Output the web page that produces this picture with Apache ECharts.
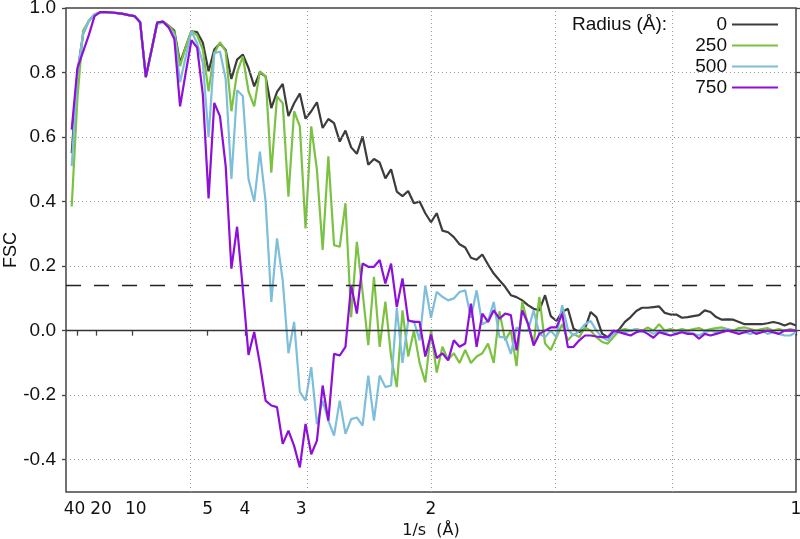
<!DOCTYPE html>
<html>
<head>
<meta charset="utf-8">
<title>FSC vs radius</title>
<script src="https://cdn.jsdelivr.net/npm/echarts@6/dist/echarts.min.js"></script>
<style>
  html, body { margin: 0; padding: 0; background: #fff; }
  #chart { width: 800px; height: 539px; }
</style>
</head>
<body>
<div id="chart"></div>
<script>
// FSC per Fourier shell, shells 1..128 (128 = Nyquist, 1 Å)
var shellCount = 128;

var radiusNames = ['0', '250', '500', '750'];

var fsc0 = [0.55, 0.80, 0.92, 0.96, 0.98, 0.987, 0.987, 0.986, 0.984, 0.982,
  0.978, 0.975, 0.956, 0.786, 0.87, 0.955, 0.958, 0.945, 0.93, 0.83,
  0.88, 0.928, 0.925, 0.892, 0.804, 0.871, 0.89, 0.87, 0.78, 0.84,
  0.856, 0.814, 0.757, 0.80, 0.788, 0.69, 0.74, 0.765, 0.665, 0.705,
  0.735, 0.657, 0.68, 0.708, 0.628, 0.656, 0.643, 0.586, 0.62, 0.568,
  0.548, 0.602, 0.514, 0.532, 0.521, 0.472, 0.50, 0.431, 0.417, 0.433,
  0.395, 0.40, 0.364, 0.336, 0.364, 0.31, 0.305, 0.29, 0.268, 0.258,
  0.226, 0.22, 0.236, 0.205, 0.177, 0.156, 0.136, 0.11, 0.104, 0.094,
  0.079, 0.068, 0.063, 0.11, 0.045, 0.03, 0.058, 0.068, 0.006, -0.004,
  0.006, 0.058, 0.042, -0.009, -0.02, -0.009, 0.004, 0.027, 0.042, 0.061,
  0.071, 0.071, 0.073, 0.075, 0.055, 0.05, 0.05, 0.04, 0.042, 0.045,
  0.048, 0.063, 0.058, 0.042, 0.034, 0.035, 0.034, 0.027, 0.02, 0.02,
  0.02, 0.02, 0.023, 0.027, 0.023, 0.016, 0.023, 0.016];

var fsc250 = [0.385, 0.72, 0.93, 0.96, 0.98, 0.987, 0.987, 0.986, 0.984, 0.982,
  0.978, 0.975, 0.956, 0.786, 0.87, 0.955, 0.958, 0.945, 0.925, 0.82,
  0.88, 0.93, 0.915, 0.87, 0.742, 0.86, 0.894, 0.866, 0.68, 0.80,
  0.85, 0.742, 0.695, 0.804, 0.788, 0.49, 0.726, 0.705, 0.415, 0.68,
  0.633, 0.317, 0.633, 0.498, 0.25, 0.54, 0.265, 0.26, 0.395, 0.042,
  0.275, 0.12, -0.045, 0.167, -0.05, 0.09, -0.08, -0.175, 0.063, -0.08,
  0.0, -0.1, -0.16, 0.0, -0.13, -0.05, -0.09, -0.07, -0.10, -0.06,
  -0.10, -0.08, -0.07, -0.04, -0.10, 0.06, -0.03, 0.0, -0.11, 0.09,
  0.02, -0.04, 0.105, -0.04, -0.06, -0.02, 0.02, -0.03, -0.01, -0.02,
  0.01, 0.0, -0.02, -0.035, -0.04, -0.02, 0.0, 0.005, 0.0, 0.005,
  0.0, 0.01, 0.0, 0.02, 0.0, 0.005, 0.0, 0.005, 0.0, 0.005,
  0.008, 0.0, 0.005, 0.008, 0.01, 0.005, 0.0, 0.008, 0.01, 0.005,
  0.0, 0.005, 0.008, 0.0, 0.005, 0.0, 0.005, 0.0];

var fsc500 = [0.51, 0.80, 0.92, 0.96, 0.98, 0.987, 0.987, 0.986, 0.984, 0.982,
  0.978, 0.975, 0.956, 0.786, 0.87, 0.95, 0.955, 0.94, 0.915, 0.77,
  0.85, 0.928, 0.89, 0.83, 0.60, 0.86, 0.865, 0.78, 0.47, 0.745,
  0.727, 0.47, 0.40, 0.555, 0.40, 0.089, 0.286, 0.155, -0.07, 0.027,
  -0.19, -0.217, -0.113, -0.29, -0.217, -0.279, -0.325, -0.217, -0.32, -0.274,
  -0.269, -0.294, -0.139, -0.279, -0.139, -0.175, -0.17, 0.07, -0.10, 0.03,
  0.03, -0.03, 0.14, 0.04, 0.12, 0.105, 0.094, 0.10, 0.12, 0.125,
  0.04, 0.125, 0.02, 0.03, 0.089, -0.02, -0.02, -0.072, 0.01, 0.0,
  0.0, 0.063, -0.01, -0.02, 0.0, -0.02, 0.079, 0.004, -0.015, 0.0,
  0.02, 0.03, 0.0, -0.02, -0.03, -0.01, 0.0, -0.005, 0.0, 0.005,
  -0.005, 0.0, -0.01, 0.0, -0.005, 0.0, -0.01, 0.0, -0.005, -0.01,
  -0.015, -0.005, 0.0, -0.005, 0.0, 0.005, -0.005, 0.0, -0.005, -0.01,
  -0.005, 0.0, -0.01, -0.005, -0.01, -0.015, -0.015, -0.005];

var fsc750 = [0.623, 0.814, 0.865, 0.916, 0.975, 0.987, 0.987, 0.986, 0.984, 0.982,
  0.978, 0.975, 0.956, 0.786, 0.87, 0.955, 0.958, 0.94, 0.904, 0.695,
  0.80, 0.90, 0.877, 0.73, 0.41, 0.706, 0.664, 0.51, 0.192, 0.322,
  0.13, -0.075, -0.004, -0.103, -0.217, -0.232, -0.237, -0.351, -0.31, -0.357,
  -0.424, -0.289, -0.383, -0.341, -0.17, -0.279, -0.072, -0.077, -0.05, 0.141,
  0.053, 0.208, 0.198, 0.198, 0.219, 0.146, 0.208, 0.073, 0.162, 0.032,
  0.027, 0.027, -0.08, -0.012, -0.085, -0.07, -0.092, -0.03, -0.05, -0.04,
  0.084, -0.05, 0.053, 0.027, 0.063, 0.037, 0.053, 0.048, -0.061, 0.063,
  0.022, -0.046, -0.01, 0.0, 0.01, 0.01, 0.053, -0.051, -0.05, -0.03,
  -0.015, -0.015, -0.018, -0.02, -0.02, 0.0, -0.005, -0.01, -0.015, -0.005,
  0.0, -0.01, -0.022, -0.005, -0.01, -0.015, -0.01, -0.005, -0.01, -0.01,
  -0.025, -0.01, -0.015, -0.01, -0.005, 0.0, -0.005, -0.01, -0.005, 0.0,
  -0.01, -0.005, 0.0, -0.005, -0.01, 0.0, 0.0, 0.0];

// resolution labels (Å); the low-res labels are spread a little apart from their ticks
var xTickLabels = ['40', '20', '10', '5', '4', '3', '2', '1'];
var xTickPos = [0.016, 0.041, 0.0914, 0.194, 0.245, 0.322, 0.5, 1.0];
var xLabelPos = [0.0116, 0.048, 0.0956, 0.194, 0.245, 0.322, 0.5, 1.0];
var yTicks = [-0.4, -0.2, 0.0, 0.2, 0.4, 0.6, 0.8, 1.0];
var xGrid = [1 / 6, 2 / 6, 3 / 6, 4 / 6, 5 / 6];
var threshold = 0.143;

var colors = ['#3c3c3c', '#7cc242', '#7dbedb', '#8e0fd8'];
var allFsc = [fsc0, fsc250, fsc500, fsc750];

function toPairs(vals) {
  return vals.map(function (v, i) { return [(i + 1) / shellCount, v]; });
}

var dotted = { color: '#9a9a9a', width: 1, type: [1, 3] };

var gridLines = [];
yTicks.forEach(function (v) {
  if (v !== 0 && v !== 1) gridLines.push({ yAxis: v, lineStyle: dotted });
});
xGrid.forEach(function (v) { gridLines.push({ xAxis: v, lineStyle: dotted }); });
gridLines.push({ yAxis: 0, lineStyle: { color: '#333', width: 1.3, type: 'solid' } });
gridLines.push({ yAxis: threshold, lineStyle: { color: '#222', width: 1.3, type: [15, 13] } });

var series = [{
  name: 'grid',
  type: 'line',
  data: [],
  z: 1,
  markLine: {
    silent: true,
    symbol: ['none', 'none'],
    label: { show: false },
    animation: false,
    data: gridLines
  }
}];
radiusNames.forEach(function (name, k) {
  series.push({
    name: name,
    type: 'line',
    data: toPairs(allFsc[k]),
    symbol: 'none',
    z: 2 + k,
    lineStyle: { color: colors[k], width: 2.2 },
    itemStyle: { color: colors[k] }
  });
});

var chart = echarts.init(document.getElementById('chart'));
chart.setOption({
  animation: false,
  backgroundColor: '#fff',
  grid: {
    left: 66, right: 4, top: 8, bottom: 47,
    containLabel: false, outerBoundsMode: 'none',
    show: true, borderColor: '#444', borderWidth: 1.5
  },
  title: {
    text: 'Radius (Å):',
    left: 572, top: 15, padding: 0,
    textStyle: { fontFamily: 'Liberation Sans', fontSize: 19, fontWeight: 'normal', color: '#111' }
  },
  legend: {
    data: radiusNames,
    orient: 'vertical',
    right: 22, top: 15, padding: 0,
    align: 'right',
    icon: 'rect',
    itemWidth: 46, itemHeight: 2, itemGap: 2,
    textStyle: { fontFamily: 'Liberation Sans', fontSize: 19, color: '#111' }
  },
  xAxis: {
    type: 'value', min: 0, max: 1,
    name: '1/s  (Å)', nameLocation: 'middle', nameGap: 28,
    nameTextStyle: { fontFamily: 'DejaVu Sans', fontSize: 16, color: '#111' },
    axisLine: { show: false },
    axisTick: { customValues: xTickPos, length: 5, lineStyle: { color: '#444', width: 1.3 } },
    axisLabel: {
      customValues: xLabelPos, margin: 9, hideOverlap: false,
      showMinLabel: true, showMaxLabel: true,
      fontFamily: 'DejaVu Sans', fontSize: 17, color: '#111',
      formatter: function (v) {
        var best = 0;
        xLabelPos.forEach(function (p, i) {
          if (Math.abs(p - v) < Math.abs(xLabelPos[best] - v)) best = i;
        });
        return xTickLabels[best];
      }
    },
    splitLine: { show: false }
  },
  yAxis: [{
    type: 'value', min: -0.5, max: 1.0,
    name: 'FSC', nameLocation: 'middle', nameGap: 46, nameMoveOverlap: false,
    nameTextStyle: { fontFamily: 'Liberation Sans', fontSize: 18, color: '#111' },
    axisLine: { show: false },
    axisTick: { customValues: yTicks, length: 4, lineStyle: { color: '#444', width: 1.3 } },
    axisLabel: {
      customValues: yTicks, margin: 10,
      fontFamily: 'Liberation Sans', fontSize: 19, color: '#111',
      formatter: function (v) { return v.toFixed(1); }
    },
    splitLine: { show: false }
  }, {
    type: 'value', min: -0.5, max: 1.0, position: 'right',
    axisLine: { show: false },
    axisTick: { customValues: yTicks, length: 4, lineStyle: { color: '#444', width: 1.3 } },
    axisLabel: { show: false },
    splitLine: { show: false }
  }],
  series: series
});
</script>
</body>
</html>
